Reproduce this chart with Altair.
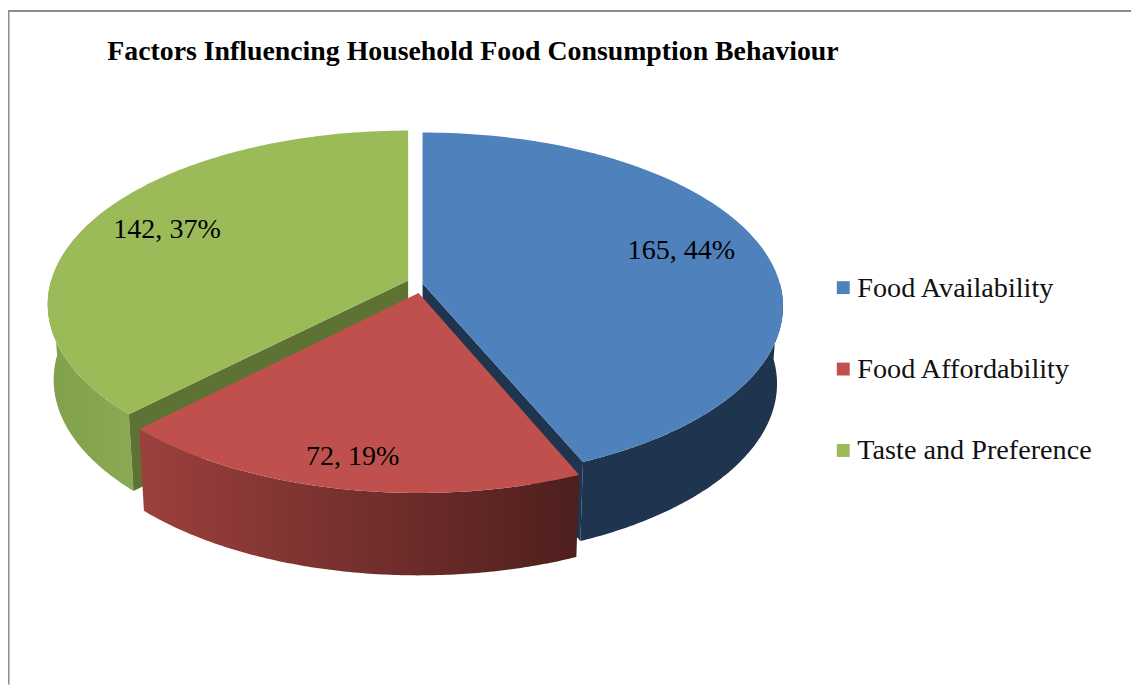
import math
import altair as alt

title = "Factors Influencing Household Food Consumption Behaviour"
categories = ["Food Availability", "Food Affordability", "Taste and Preference"]
values = [165, 72, 142]
percents = [44, 19, 37]
top_colors = ["#4F81BD", "#C0504D", "#9BBB59"]

OX, OY = 8, 8
total = sum(values)


def warp(t):
    # perspective of the tilted pie: angles in the data -> angles on the ellipse
    return t - 8 * math.sin(math.radians(t))


blue_end = 360 * values[0] / total
green_start = 360 - 360 * values[2] / total

# slice geometry: centre of top rim, lifted tip, drop of the lower rim
G = {
    "blue": dict(cx=425.5, cy=306, tip=283, bx=425.5, by=384),
    "red": dict(cx=421.5, cy=319, tip=292.5, bx=421.5, by=400),
    "green": dict(cx=411, cy=304, tip=280, bx=411, by=380),
}
RX, RY, BRX, BRY = 363, 175, 357, 177


def rim(g, t0, t1, lower=False, n=120):
    pts = []
    for i in range(n + 1):
        t = math.radians(warp(t0 + (t1 - t0) * i / n))
        if lower:
            pts.append([g["bx"] + BRX * math.sin(t), g["by"] - BRY * math.cos(t)])
        else:
            pts.append([g["cx"] + RX * math.sin(t), g["cy"] - RY * math.cos(t)])
    return pts


def feature(pts, name):
    ring = pts + [pts[0]]
    return {
        "type": "Feature",
        "properties": {"name": name},
        "geometry": {"type": "Polygon", "coordinates": [ring]},
    }


def top(key, t0, t1, name):
    g = G[key]
    return feature([[g["cx"], g["tip"]]] + rim(g, t0, t1), name)


def side(key, t0, t1):
    g = G[key]
    return feature(rim(g, t0, t1) + rim(g, t0, t1, lower=True)[::-1], key)


def inner(key, t):
    g = G[key]
    a = rim(g, t, t, n=1)[0]
    b = rim(g, t, t, lower=True, n=1)[0]
    drop = g["by"] - g["cy"]
    return feature([[g["cx"], g["tip"]], a, b, [g["bx"], g["tip"] + drop]], key)


PROJ = dict(type="identity", scale=1, translate=[-OX, -OY])


def shape(feat, fill):
    return (
        alt.Chart(alt.Data(values=[feat]))
        .mark_geoshape(fill=fill, stroke=None, strokeWidth=0)
        .project(**PROJ)
    )


def grad(c0, c1):
    return alt.LinearGradient(
        gradient="linear",
        x1=0, x2=1, y1=0, y2=0,
        stops=[alt.GradientStop(color=c0, offset=0), alt.GradientStop(color=c1, offset=1)],
    )


tops = (
    alt.Chart(
        alt.Data(
            values=[
                top("blue", 0, blue_end, categories[0]),
                top("green", green_start, 360, categories[2]),
                top("red", blue_end, green_start, categories[1]),
            ]
        )
    )
    .mark_geoshape(stroke=None, strokeWidth=0)
    .encode(
        color=alt.Color(
            "properties.name:N",
            scale=alt.Scale(domain=categories, range=top_colors),
            legend=alt.Legend(
                title=None,
                orient="none",
                legendX=841 - OX - 9,
                legendY=273 - OY,
                symbolType="square",
                symbolSize=169,
                symbolStrokeWidth=0,
                symbolOpacity=1,
                symbolOffset=3,
                labelFont="Liberation Serif",
                labelFontSize=28.4,
                labelColor="#111111",
                labelLimit=400,
                labelOffset=0,
                rowPadding=53,
                padding=0,
            ),
        )
    )
    .project(**PROJ)
)


def text(s, x, y, size, bold=False):
    return (
        alt.Chart(alt.Data(values=[{"t": s}]))
        .mark_text(
            font="Liberation Serif",
            fontSize=size,
            fontWeight="bold" if bold else "normal",
            color="#000000",
            align="left",
            baseline="alphabetic",
        )
        .encode(text="t:N", x=alt.value(x - OX), y=alt.value(y - OY))
    )


labels = [f"{v}, {p}%" for v, p in zip(values, percents)]

frame_top = (
    alt.Chart(alt.Data(values=[{"a": 1}]))
    .mark_rule(color="#8C8C8C", strokeWidth=2)
    .encode(x=alt.value(0), x2=alt.value(1131), y=alt.value(0.5))
)
frame_left = (
    alt.Chart(alt.Data(values=[{"a": 1}]))
    .mark_rule(color="#8C8C8C", strokeWidth=2)
    .encode(x=alt.value(0.5), y=alt.value(0), y2=alt.value(679))
)

chart = alt.layer(
    frame_top,
    frame_left,
    shape(side("green", green_start, 270), grad("#80A04A", "#8BA952")),
    shape(inner("green", green_start), "#5E7233"),
    shape(side("blue", 90, blue_end), "#1F344F"),
    shape(inner("blue", blue_end), "#1F344F"),
    shape(side("red", blue_end, green_start), grad("#9C403E", "#4E1F1D")),
    tops,
    text(title, 108, 58, 28, bold=True),
    text(labels[0], 632, 258, 28.3),
    text(labels[1], 308, 466, 28.3),
    text(labels[2], 114, 237, 28.3),
).properties(
    width=1131,
    height=679,
    padding=0,
    background="#FFFFFF",
    autosize=alt.AutoSizeParams(type="none"),
).configure_view(stroke=None)

chart.save("out.html", embed_options={"renderer": "svg", "actions": False})
